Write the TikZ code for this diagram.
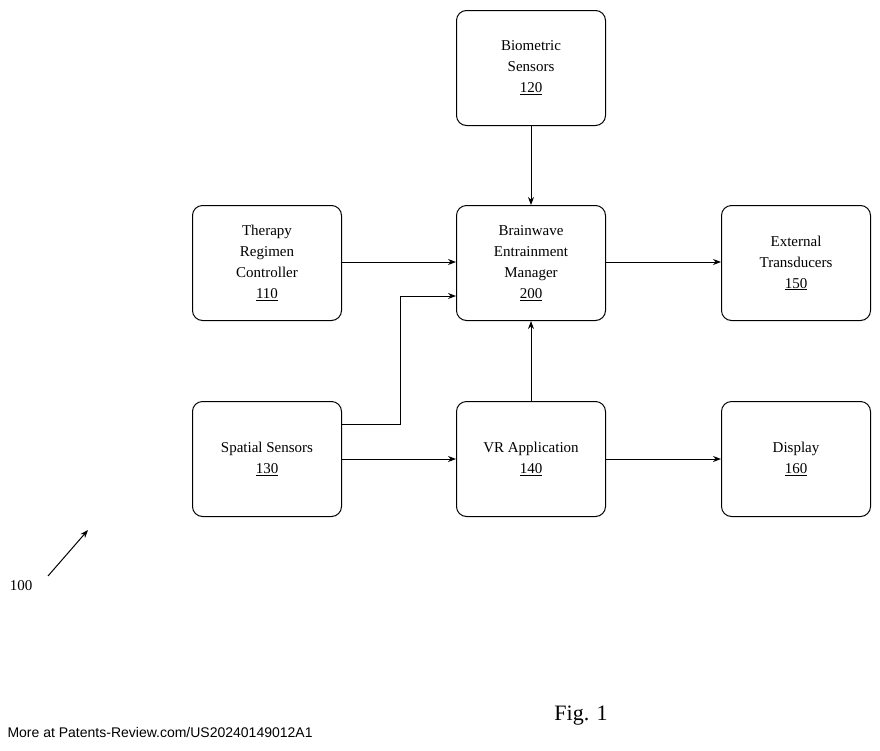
\documentclass[tikz,border=0pt]{standalone}
\usepackage{fontspec}
\setmainfont{Liberation Serif}
\newfontfamily\footsans{Liberation Sans}
\usetikzlibrary{arrows.meta}
\begin{document}
\begin{tikzpicture}[x=1pt,y=-1pt,
 box/.style={draw,line width=1pt,rounded corners=10pt,minimum width=149pt,minimum height=115pt,align=center,font=\fontsize{15}{21}\selectfont,anchor=north west,inner sep=0},
 arr/.style={line width=1pt,-{Stealth[length=8pt,width=6pt]}}]
\useasboundingbox (0,0) rectangle (880,750);
\node[box] (bio) at (456,10) {Biometric\\Sensors\\\underline{120}};
\node[box] (ther) at (192,205) {Therapy\\Regimen\\Controller\\\underline{110}};
\node[box] (bw) at (456,205) {Brainwave\\Entrainment\\Manager\\\underline{200}};
\node[box] (ext) at (721,205) {External\\Transducers\\\underline{150}};
\node[box] (sp) at (192,401) {Spatial Sensors\\\underline{130}};
\node[box] (vr) at (456,401) {VR Application\\\underline{140}};
\node[box] (disp) at (721,401) {Display\\\underline{160}};
\draw[arr] (bio.south) -- (bw.north);
\draw[arr] (ther.east |- 0,262) -- (bw.west |- 0,262);
\draw[arr] (sp.east |- 0,424) -- (400,424) -- (400,296) -- (bw.west |- 0,296);
\draw[arr] (sp.east |- 0,459) -- (vr.west |- 0,459);
\draw[arr,{Stealth[length=8pt,width=6pt]}-] (bw.south) -- (vr.north);
\draw[arr] (bw.east |- 0,262) -- (ext.west |- 0,262);
\draw[arr] (vr.east |- 0,459) -- (disp.west |- 0,459);
\node[font=\fontsize{15}{18}\selectfont] (l100) at (21,586) {100};
\coordinate (a100) at (88,530);
\draw[arr] (48,576) -- (a100);
\node[font=\fontsize{22}{26}\selectfont] (fig) at (581,716) {Fig. 1};
\node[font=\footsans\fontsize{14}{16}\selectfont,anchor=west] (foot) at (4,732) {More at Patents-Review.com/US20240149012A1};
\end{tikzpicture}
\end{document}
